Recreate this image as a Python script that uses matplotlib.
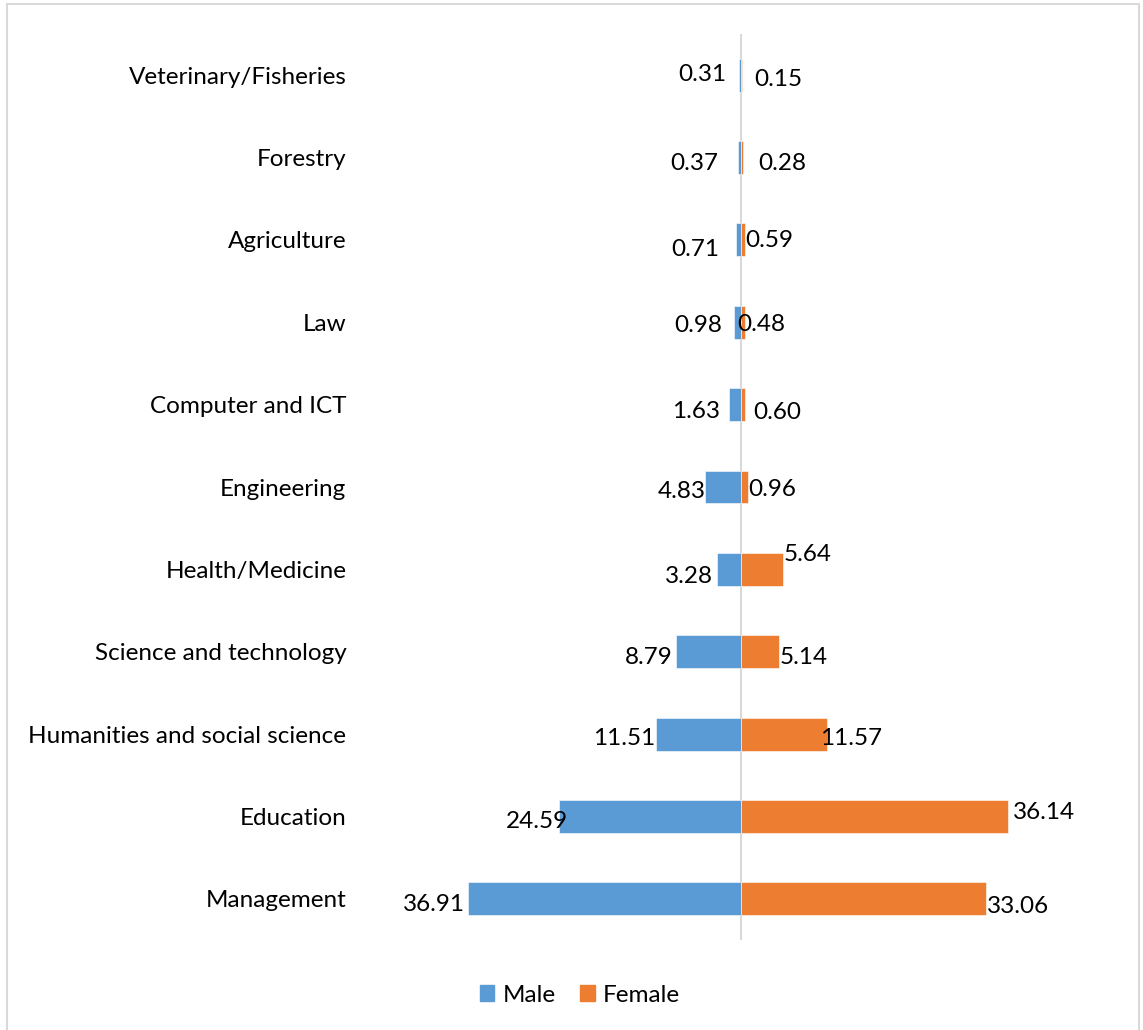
import numpy as np
import matplotlib
matplotlib.use("Agg")
import matplotlib.pyplot as plt
from matplotlib.patches import Rectangle, Patch

plt.rcParams['font.family'] = ['Lato', 'DejaVu Sans']

fields = ["Management", "Education", "Humanities and social science",
          "Science and technology", "Health/Medicine", "Engineering",
          "Computer and ICT", "Law", "Agriculture", "Forestry",
          "Veterinary/Fisheries"]
male = [36.91, 24.59, 11.51, 8.79, 3.28, 4.83, 1.63, 0.98, 0.71, 0.37, 0.31]
female = [33.06, 36.14, 11.57, 5.14, 5.64, 0.96, 0.60, 0.48, 0.59, 0.28, 0.15]

# nudges for the value labels, in pixels (dx, dy; dy positive = down)
male_nudge = [(-3, 6), (9, 5), (-1, 4), (-3, 6), (-4, 7), (0, 5),
              (-9, 7), (-12, 3), (-16, 10), (-20, 6), (-12, -1)]
female_nudge = [(1, 8), (5, -4), (-7, 4), (1, 6), (1, -15), (0, 2),
                (8, 8), (-7, 2), (0, 1), (15, 6), (12, 4)]

blue = "#5b9bd5"
orange = "#ed7d31"
W, H = 1143, 1030
fs = 17.5

fig = plt.figure(figsize=(W / 100, H / 100), dpi=100)
ax = fig.add_axes([445 / W, 90 / H, 592 / W, 906 / H])

y = np.arange(len(fields))
ax.barh(y, [-v for v in male], height=0.4, color=blue, edgecolor="white",
        linewidth=0.4, label="Male", zorder=2)
ax.barh(y, female, height=0.4, color=orange, edgecolor="white",
        linewidth=0.4, label="Female", zorder=2)
ax.axvline(0, color="#d9d9d9", linewidth=1.5, zorder=1)

ax.set_xlim(-40, 40)
ax.set_ylim(-0.5, len(fields) - 0.5)
ax.set_xticks([])
ax.set_yticks(y)
ax.set_yticklabels(fields, fontsize=fs)
ax.tick_params(axis="y", length=0, pad=71)
for s in ax.spines.values():
    s.set_visible(False)

for i in range(len(fields)):
    dx, dy = male_nudge[i]
    ax.annotate(f"{male[i]:.2f}", (-male[i], i), xytext=(dx * 0.72, -dy * 0.72),
                textcoords="offset points", ha="right", va="center", fontsize=fs)
    dx, dy = female_nudge[i]
    ax.annotate(f"{female[i]:.2f}", (female[i], i), xytext=(dx * 0.72, -dy * 0.72),
                textcoords="offset points", ha="left", va="center", fontsize=fs)

handles = [Patch(color=blue), Patch(color=orange)]
fig.legend(handles, ["Male", "Female"], loc="center", bbox_to_anchor=(580 / W, 1 - 995 / H),
           ncol=2, frameon=False, fontsize=fs, handlelength=0.6, handleheight=0.6,
           handletextpad=0.35, columnspacing=1.0)

fig.patches.append(Rectangle((7 / W, -0.02), 1132 / W, 1.02 - 4 / H, transform=fig.transFigure,
                             fill=False, edgecolor="#d9d9d9", linewidth=1.5))

fig.savefig("out.png", dpi=100)
